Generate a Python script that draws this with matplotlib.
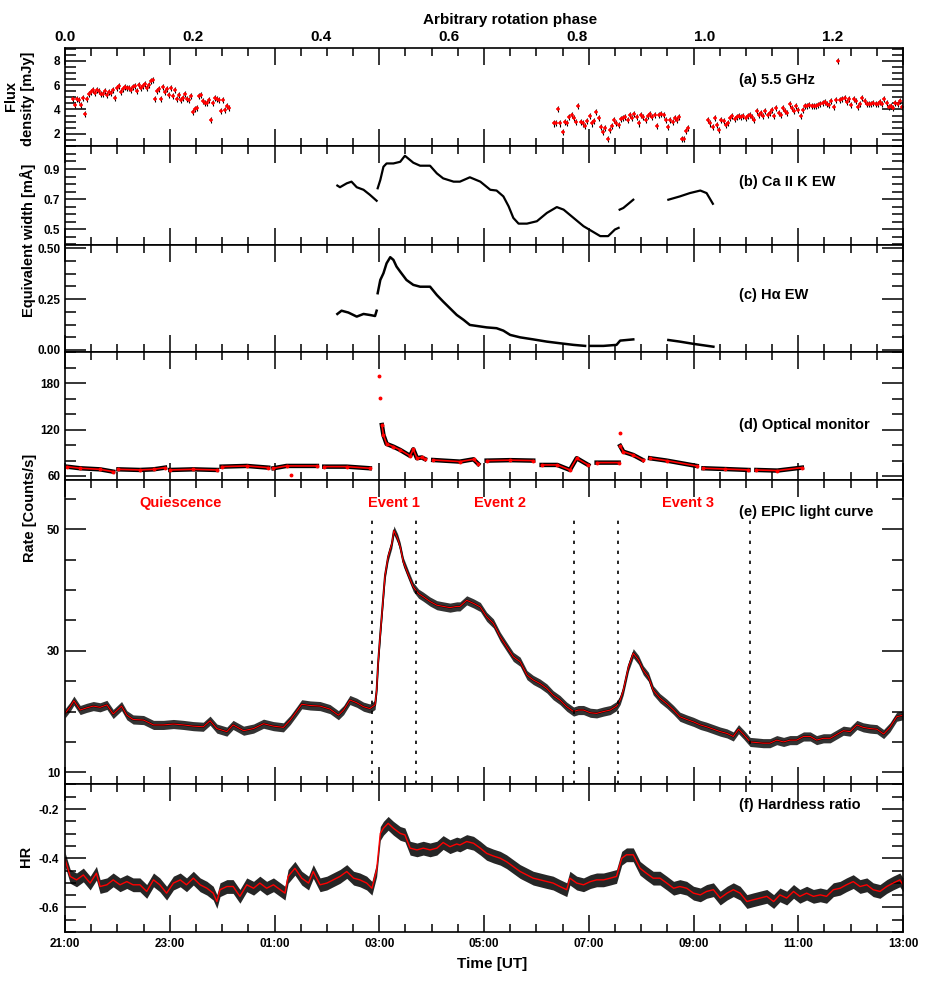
import numpy as np
import matplotlib.pyplot as plt
from matplotlib.ticker import MultipleLocator, FuncFormatter, FormatStrFormatter, NullLocator

plt.rcParams['font.family'] = ['Liberation Sans', 'DejaVu Sans']
plt.rcParams['font.weight'] = 'bold'
plt.rcParams['axes.linewidth'] = 1.2

nan = np.nan
# all times are hours after 21:00 UT
period = 12.22  # hours per rotation (top axis)

# (a) 5.5 GHz flux density [mJy], three evenly sampled scans
radio_start = [0.16, 9.33, 12.28]
radio_stop = [3.13, 11.90, 15.98]
radio_scan1 = [4.86, 4.40, 4.86, 4.81, 4.40, 4.95, 3.64, 4.89, 5.30, 5.46, 5.57, 5.35,
               5.63, 5.49, 5.30, 5.27, 5.49, 5.22, 5.41, 5.35, 5.57, 4.95, 5.76, 5.95,
               5.41, 5.68, 5.85, 5.74, 5.76, 5.63, 5.85, 5.95, 5.49, 6.01, 5.76, 5.90,
               6.12, 5.76, 5.98, 6.34, 6.39, 4.86, 5.49, 5.68, 4.86, 5.85, 5.41, 5.68,
               5.22, 5.76, 5.08, 5.57, 4.86, 5.22, 4.75, 4.92, 5.30, 4.86, 4.81, 5.14,
               3.77, 4.05, 4.13, 5.08, 5.16, 4.67, 4.54, 4.54, 4.81, 3.17, 4.54, 4.95,
               4.86, 4.75, 3.85, 4.75, 3.99, 4.26, 4.13]
radio_scan2 = [2.85, 2.90, 4.05, 2.85, 2.14, 2.95, 2.90, 3.39, 3.58, 3.31, 2.95, 4.32,
               2.95, 2.85, 2.63, 3.04, 3.45, 2.85, 3.04, 3.77, 3.31, 2.57, 2.14, 2.49,
               1.54, 2.35, 2.68, 3.12, 2.90, 2.76, 3.23, 3.31, 3.39, 3.17, 3.58, 3.31,
               3.66, 3.39, 2.85, 3.58, 3.39, 3.12, 3.45, 3.66, 3.39, 3.58, 2.63, 3.58,
               3.66, 3.58, 3.17, 2.57, 3.17, 2.95, 3.31, 3.12, 3.39, 1.54, 1.54, 2.22,
               2.49]
radio_scan3 = [3.12, 2.85, 2.57, 3.31, 2.76, 2.35, 3.12, 3.04, 2.76, 2.90, 3.31, 3.45,
               3.23, 3.39, 3.50, 3.39, 3.50, 3.31, 3.45, 3.58, 3.39, 3.12, 3.85, 3.58,
               3.72, 3.45, 3.85, 3.58, 3.72, 3.99, 3.45, 4.13, 3.72, 3.58, 4.13, 3.85,
               3.72, 4.48, 4.13, 3.85, 4.32, 3.99, 3.50, 3.99, 4.32, 4.32, 4.40, 4.26,
               4.32, 4.32, 4.40, 4.48, 4.54, 4.59, 4.48, 4.40, 4.67, 4.21, 4.81, 7.95,
               4.75, 4.86, 4.95, 4.59, 4.86, 4.40, 4.86, 4.67, 4.21, 4.48, 4.95, 4.67,
               4.48, 4.48, 4.48, 4.54, 4.48, 4.48, 4.59, 4.48, 4.86, 4.54, 4.21, 4.26,
               4.13, 4.54, 4.48, 4.67, 4.21]
radio_err = 0.25

# (b) Ca II K equivalent width
ca_t = [5.20, 5.25, 5.38, 5.47, 5.57, 5.70, 5.82, 5.95, nan,
        5.97, 6.02, 6.08, 6.14, 6.27, 6.40, 6.49, 6.65, 6.78, 6.97,
        7.10, 7.22, 7.42, 7.54, 7.73, 7.93, 8.12, 8.24, 8.37, 8.47,
        8.56, 8.66, 8.82, 9.01, 9.20, 9.39, 9.52, 9.71, 9.90, 10.06,
        10.22, 10.37, 10.50, 10.57, nan, 10.59, 10.66, 10.85, nan,
        11.52, 11.74, 11.93, 12.13, 12.25, 12.37]
ca_ew = [0.790, 0.779, 0.805, 0.816, 0.779, 0.762, 0.729, 0.689, nan,
         0.772, 0.827, 0.915, 0.937, 0.937, 0.948, 0.988, 0.942, 0.922, 0.922,
         0.871, 0.838, 0.816, 0.816, 0.845, 0.816, 0.762, 0.757, 0.718, 0.652,
         0.575, 0.537, 0.537, 0.553, 0.608, 0.647, 0.630, 0.575, 0.520, 0.487,
         0.454, 0.454, 0.498, 0.509, nan, 0.630, 0.641, 0.696, nan,
         0.696, 0.718, 0.740, 0.757, 0.740, 0.669]

# (c) H-alpha equivalent width
ha_t = [5.20, 5.28, 5.41, 5.57, 5.70, 5.82, 5.92, 5.95, nan,
        5.97, 6.02, 6.08, 6.14, 6.21, 6.27, 6.33, 6.40, 6.52, 6.65,
        6.78, 6.97, 7.10, 7.22, 7.35, 7.48, 7.61, 7.73, 8.05, 8.24,
        8.37, 8.50, 8.69, 8.94, 9.20, 9.45, 9.71, 9.93, nan,
        10.03, 10.28, 10.53, 10.60, 10.85, nan, 11.52, 11.74, 12.00, 12.38]
ha_ew = [0.177, 0.193, 0.184, 0.164, 0.177, 0.172, 0.167, 0.193, nan,
         0.279, 0.344, 0.377, 0.426, 0.456, 0.443, 0.410, 0.385, 0.344, 0.320,
         0.311, 0.311, 0.270, 0.238, 0.205, 0.172, 0.148, 0.123, 0.111, 0.107,
         0.095, 0.074, 0.062, 0.052, 0.041, 0.033, 0.025, 0.020, nan,
         0.020, 0.020, 0.025, 0.046, 0.052, nan, 0.049, 0.041, 0.030, 0.016]

# (d) optical monitor rate, exposures separated by nan
om_t = [0.03, 0.29, 0.67, 0.92, nan, 1.02, 1.43, 1.69, 1.91, nan, 2.01, 2.45, 2.90, nan,
        2.99, 3.47, 3.88, nan, 3.98, 4.23, 4.81, nan, 4.31, nan, 4.95, 5.38, 5.82, nan,
        6.00, nan, 6.02, nan, 6.05, 6.08, 6.14, 6.27, 6.40, 6.59, 6.65, 6.72, 6.81, 6.87, nan,
        7.03, 7.54, 7.80, 7.89, nan, 8.05, 8.50, 8.94, nan, 9.10, 9.40, 9.64, 9.77, 9.99, nan,
        10.15, 10.57, nan, 10.59, nan, 10.60, 10.66, 10.85, 11.03, nan,
        11.17, 11.49, 12.06, nan, 12.19, 12.60, 13.05, nan, 13.20, 13.60, 14.07]
om_rate = [72.1, 70.0, 68.6, 65.6, nan, 68.6, 67.8, 68.6, 70.8, nan, 67.8, 68.6, 67.8, nan,
           72.1, 73.0, 70.8, nan, 70.0, 73.0, 73.0, nan, 61.3, nan, 72.1, 72.1, 70.0, nan,
           189.5, nan, 160.6, nan, 126.0, 113.0, 101.5, 98.0, 93.7, 86.0, 94.5, 83.0, 84.0, 82.0, nan,
           80.7, 78.6, 81.6, 75.6, nan, 79.9, 80.5, 79.9, nan, 74.3, 74.3, 67.8, 83.0, 74.3, nan,
           77.3, 77.3, nan, 116.0, nan, 98.9, 91.5, 87.2, 80.7, nan,
           83.0, 79.9, 73.0, nan, 70.0, 69.0, 67.8, nan, 67.8, 67.0, 70.8]

# (e) EPIC light curve [counts/s]
epic_t = [0.00, 0.10, 0.17, 0.29, 0.41, 0.54, 0.67, 0.80, 0.92, 1.08, 1.18, 1.30, 1.50,
          1.69, 1.88, 2.07, 2.26, 2.45, 2.64, 2.77, 2.90, 3.09, 3.21, 3.41, 3.60, 3.79,
          3.98, 4.17, 4.30, 4.42, 4.52, 4.68, 4.87, 5.06, 5.22, 5.32, 5.44, 5.57, 5.70,
          5.82, 5.92, 5.95, 5.98, 6.02, 6.06, 6.11, 6.17, 6.24, 6.28, 6.35, 6.40, 6.46,
          6.56, 6.65, 6.75, 6.84, 6.97, 7.10, 7.22, 7.35, 7.48,
          7.54, 7.67, 7.80, 7.93, 8.05, 8.18, 8.31, 8.43, 8.56, 8.69, 8.82, 8.94, 9.07,
          9.20, 9.32, 9.45, 9.58, 9.71, 9.80, 9.90, 10.03, 10.15, 10.28, 10.41, 10.53,
          10.60, 10.66, 10.76, 10.85, 10.95, 11.04, 11.14, 11.23, 11.36, 11.49, 11.62,
          11.74, 11.87, 12.00, 12.13, 12.25, 12.38, 12.51, 12.64, 12.76, 12.86, 12.96,
          13.08, 13.21, 13.33, 13.46, 13.59, 13.72, 13.84, 13.97, 14.10, 14.23, 14.35,
          14.48, 14.61, 14.73, 14.86, 14.99, 15.12, 15.24, 15.37, 15.50, 15.63, 15.75,
          15.88, 16.00]
epic_rate = [19.7, 20.8, 21.8, 20.25, 20.6, 20.9, 20.7, 21.1, 19.6, 20.9, 19.4, 18.7, 18.6,
             17.8, 17.8, 17.95, 17.8, 17.6, 17.5, 18.5, 17.2, 16.7, 17.8, 16.85, 17.2, 18.0,
             17.6, 17.4, 18.6, 20.0, 21.2, 21.0, 20.9, 20.4, 19.4, 20.25, 21.9, 21.45, 20.8,
             20.5, 21.1, 23.5, 28.2, 32.8, 37.0, 42.4, 45.5, 47.6, 49.8, 48.5, 47.1, 44.6,
             42.4, 40.5, 39.4, 38.9, 38.1, 37.5, 37.3, 37.1, 37.3,
             37.3, 38.3, 37.8, 37.2, 35.6, 34.5, 32.3, 30.7, 29.0, 28.2, 26.0, 25.2, 24.6,
             23.8, 22.7, 21.9, 20.8, 20.0, 20.25, 20.25, 19.8, 19.7, 20.0, 20.25, 20.9,
             21.9, 23.5, 27.4, 29.6, 28.5, 26.8, 25.7, 23.5, 22.2, 21.3, 20.25,
             19.15, 18.7, 18.3, 17.8, 17.5, 17.1, 16.7, 16.4, 15.9, 17.1, 16.2,
             15.0, 14.9, 14.8, 14.8, 15.3, 15.0, 15.3, 15.3, 15.9, 15.9, 15.3,
             15.6, 15.6, 16.2, 16.85, 16.7, 17.8, 17.4, 17.2, 17.1, 16.3, 17.4,
             19.15, 19.4]
epic_err = 0.75

# (f) hardness ratio
hr_t = [0.00, 0.10, 0.22, 0.35, 0.48, 0.60, 0.67, 0.80, 0.92, 1.05, 1.18, 1.30, 1.43,
        1.56, 1.69, 1.81, 1.94, 2.07, 2.20, 2.32, 2.45, 2.58, 2.71, 2.83, 2.90, 2.96,
        3.09, 3.21, 3.34, 3.47, 3.60, 3.72, 3.85, 3.98, 4.11, 4.20, 4.26, 4.39, 4.52,
        4.65, 4.74, 4.87, 5.00, 5.12, 5.25, 5.38, 5.51, 5.63, 5.76, 5.86, 5.95, 6.02,
        6.08, 6.17, 6.27, 6.40, 6.49, 6.59, 6.72, 6.84, 6.97, 7.10, 7.22, 7.35, 7.48,
        7.54, 7.67, 7.80, 7.93, 8.05, 8.18, 8.31, 8.43, 8.56, 8.69, 8.82, 8.94, 9.07,
        9.20, 9.32, 9.45, 9.58, 9.64, 9.77, 9.90, 10.03, 10.15, 10.28, 10.41, 10.53,
        10.63, 10.72, 10.85, 10.98, 11.10, 11.23, 11.36, 11.49, 11.62, 11.74, 11.87,
        12.00, 12.13, 12.25, 12.38, 12.51, 12.64, 12.76, 12.89, 13.02, 13.14, 13.27,
        13.40, 13.53, 13.65, 13.78, 13.91, 14.03, 14.16, 14.29, 14.42, 14.54, 14.67,
        14.80, 14.92, 15.05, 15.18, 15.31, 15.43, 15.56, 15.69, 15.81, 15.94, 16.00]
hr = [-0.404, -0.474, -0.488, -0.468, -0.501, -0.461, -0.515, -0.508, -0.488, -0.508,
      -0.495, -0.508, -0.508, -0.535, -0.488, -0.508, -0.542, -0.501, -0.488, -0.508,
      -0.481, -0.508, -0.522, -0.542, -0.576, -0.528, -0.515, -0.515, -0.555, -0.508,
      -0.522, -0.501, -0.522, -0.508, -0.528, -0.542, -0.474, -0.441, -0.481, -0.501,
      -0.454, -0.508, -0.501, -0.488, -0.474, -0.454, -0.481, -0.488, -0.501, -0.522,
      -0.447, -0.299, -0.278, -0.258, -0.278, -0.299, -0.305, -0.359, -0.366, -0.359,
      -0.366, -0.359, -0.336, -0.353, -0.342,
      -0.346, -0.332, -0.339, -0.359, -0.380, -0.391, -0.400, -0.414, -0.434, -0.454,
      -0.468, -0.481, -0.488, -0.495, -0.501, -0.515, -0.528, -0.481, -0.501, -0.508,
      -0.495, -0.488, -0.488, -0.481, -0.474, -0.400, -0.386, -0.386, -0.441, -0.461,
      -0.481, -0.481, -0.501, -0.522, -0.515, -0.522, -0.542, -0.549, -0.535, -0.528,
      -0.562, -0.542, -0.528, -0.542, -0.576, -0.569, -0.562, -0.555, -0.576, -0.549,
      -0.562, -0.535, -0.555, -0.542, -0.555, -0.549, -0.555, -0.528, -0.522, -0.508,
      -0.495, -0.515, -0.508, -0.528, -0.535, -0.515, -0.501, -0.488, -0.508]
hr_err = 0.028

# interval boundaries and names in panel (e)
event_lines = [5.86, 6.70, 9.72, 10.56, 13.07]
event_names = ['Quiescence', 'Event 1', 'Event 2', 'Event 3']
event_pos = [2.21, 6.28, 8.31, 11.90]

panel_names = ['(a) 5.5 GHz', '(b) Ca II K EW', '(c) H\u03b1 EW',
               '(d) Optical monitor', '(e) EPIC light curve', '(f) Hardness ratio']
panel_text_y = [0.67, 0.64, 0.53, 0.43, 0.895, 0.86]

W, H = 926, 981
fig = plt.figure(figsize=(W / 100, H / 100), dpi=100)
edges = [48, 146, 245, 352, 480, 784, 932]
axes = []
for i in range(6):
    top, bot = edges[i], edges[i + 1]
    ax = fig.add_axes([65 / W, 1 - bot / H, 838 / W, (bot - top) / H])
    ax.set_xlim(0, 16)
    ax.xaxis.set_major_locator(MultipleLocator(2))
    ax.xaxis.set_minor_locator(MultipleLocator(0.5))
    ax.tick_params(which='both', direction='in', top=True, right=True, width=1.1,
                   labelbottom=False, labelsize=8.5)
    ax.tick_params(axis='x', which='major', length=12)
    ax.tick_params(axis='x', which='minor', length=6)
    ax.tick_params(axis='y', which='major', length=15)
    ax.tick_params(axis='y', which='minor', length=8)
    ax.text(0.804, panel_text_y[i], panel_names[i], transform=ax.transAxes,
            fontsize=10.5, fontweight='bold', va='center', ha='left')
    axes.append(ax)
ax_a, ax_b, ax_c, ax_d, ax_e, ax_f = axes

# (a)
for t0, t1, scan in zip(radio_start, radio_stop, [radio_scan1, radio_scan2, radio_scan3]):
    t = np.linspace(t0, t1, len(scan))
    ax_a.errorbar(t, scan, yerr=radio_err, fmt='+', color='red', ms=3.5, mew=1.1,
                  ecolor='black', elinewidth=0.8, capsize=0)
ax_a.set_ylim(1.0, 9.05)
ax_a.yaxis.set_major_locator(MultipleLocator(2))
ax_a.yaxis.set_minor_locator(MultipleLocator(0.5))
ax_a.yaxis.set_major_formatter(FormatStrFormatter('%d'))

sec = ax_a.secondary_xaxis('top', functions=(lambda h: h / period, lambda p: p * period))
sec.set_xticks(np.arange(0, 1.21, 0.2))
sec.xaxis.set_minor_locator(NullLocator())
sec.xaxis.set_major_formatter(FormatStrFormatter('%.1f'))
sec.tick_params(length=0, labelsize=11, pad=3)
sec.spines['top'].set_visible(False)

# (b)
ax_b.plot(ca_t, ca_ew, '-', color='black', lw=1.6)
ax_b.set_ylim(0.395, 1.053)
ax_b.yaxis.set_major_locator(MultipleLocator(0.2, offset=0.1))
ax_b.yaxis.set_minor_locator(MultipleLocator(0.05))
ax_b.yaxis.set_major_formatter(FormatStrFormatter('%.1f'))

# (c)
ax_c.plot(ha_t, ha_ew, '-', color='black', lw=1.8)
ax_c.set_ylim(-0.01, 0.516)
ax_c.yaxis.set_major_locator(MultipleLocator(0.25))
ax_c.yaxis.set_minor_locator(MultipleLocator(0.0625))
ax_c.yaxis.set_major_formatter(FormatStrFormatter('%.2f'))

# (d)
ax_d.plot(om_t, om_rate, '-', color='black', lw=3.2)
ax_d.plot(om_t, om_rate, '-', color='red', lw=1.2, marker='o', ms=1.8, mec='red')
ax_d.set_ylim(54.8, 220.5)
ax_d.yaxis.set_major_locator(MultipleLocator(60))
ax_d.yaxis.set_minor_locator(MultipleLocator(20))

# (e)
epic_t_a = np.array(epic_t)
epic_r_a = np.array(epic_rate)
ax_e.fill_between(epic_t_a, epic_r_a - epic_err, epic_r_a + epic_err, color='0.2', lw=0)
ax_e.plot(epic_t_a, epic_r_a, '-', color='black', lw=1.4)
ax_e.plot(epic_t_a, epic_r_a, '-', color='red', lw=0.8)
ax_e.set_ylim(8.08, 58.1)
ax_e.vlines(event_lines, 8.08, 51.6, colors='black', linestyles=(0, (2, 4)), lw=1.2)
for name, x in zip(event_names, event_pos):
    ax_e.text(x, 54.3, name, color='red', fontsize=10.5, fontweight='bold',
              ha='center', va='center')
ax_e.yaxis.set_major_locator(MultipleLocator(20, offset=10))
ax_e.yaxis.set_minor_locator(MultipleLocator(5))

# (f)
hr_t_a = np.array(hr_t)
hr_a = np.array(hr)
ax_f.fill_between(hr_t_a, hr_a - hr_err, hr_a + hr_err, color='0.15', lw=0)
ax_f.plot(hr_t_a, hr_a, '-', color='red', lw=1.0)
ax_f.set_ylim(-0.70, -0.098)
ax_f.yaxis.set_major_locator(MultipleLocator(0.2))
ax_f.yaxis.set_minor_locator(MultipleLocator(0.05))
ax_f.yaxis.set_major_formatter(FormatStrFormatter('%.1f'))
ax_f.tick_params(labelbottom=True, pad=4.5)
ax_f.xaxis.set_major_formatter(FuncFormatter(lambda h, pos: '%02d:00' % ((21 + int(round(h))) % 24)))

# axis titles placed in pixel positions
def ftext(x, y, s, **kw):
    fig.text(x / W, 1 - y / H, s, ha='center', va='center', fontweight='bold', **kw)

ftext(510, 20, 'Arbitrary rotation phase', fontsize=11)
ftext(492, 964, 'Time [UT]', fontsize=11)
ftext(11, 96, 'Flux', fontsize=10.5, rotation=90)
ftext(28, 99, 'density [mJy]', fontsize=10.5, rotation=90)
ftext(28, 240, 'Equivalent width [m\u00c5]', fontsize=10.5, rotation=90)
ftext(30, 508, 'Rate [Counts/s]', fontsize=10.5, rotation=90)
ftext(26, 856, 'HR', fontsize=10.5, rotation=90)

fig.savefig('out.png', dpi=100, facecolor='white')
